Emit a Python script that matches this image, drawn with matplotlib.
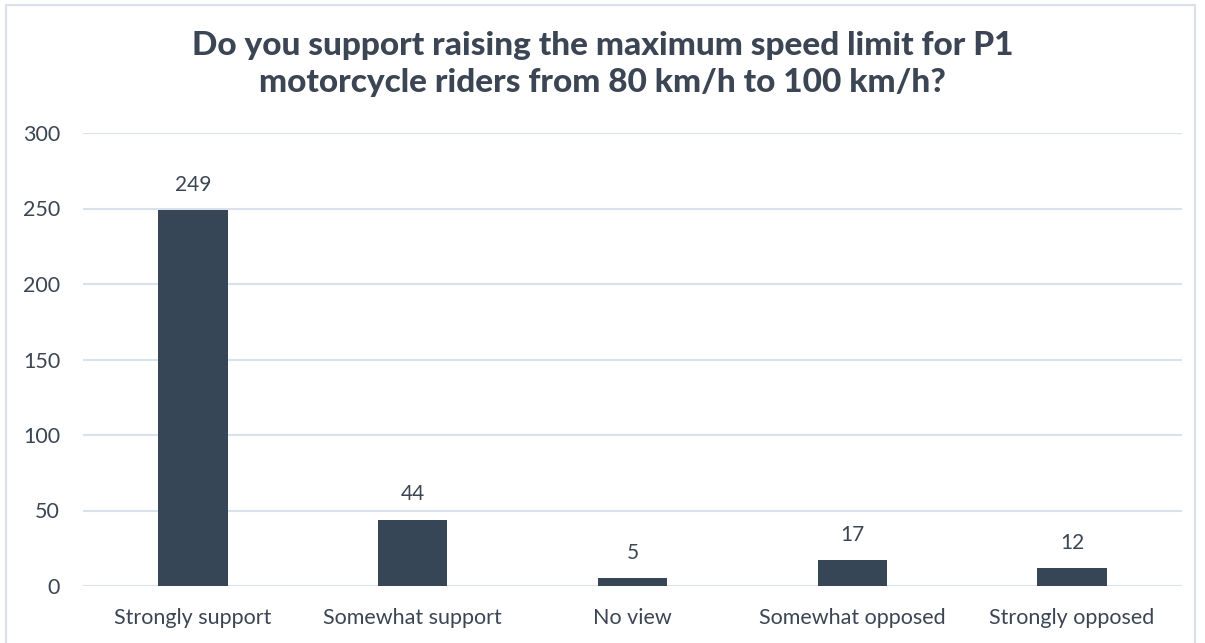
import matplotlib.pyplot as plt
from matplotlib.patches import Rectangle

categories = ["Strongly support", "Somewhat support", "No view",
              "Somewhat opposed", "Strongly opposed"]
counts = [249, 44, 5, 17, 12]
yticks = [0, 50, 100, 150, 200, 250, 300]

bar_color = "#374656"
text_color = "#3B4553"
grid_color = "#D9E2EC"

plt.rcParams["font.family"] = ["Lato", "DejaVu Sans"]

W, H = 1205, 643
fig = plt.figure(figsize=(W / 100, H / 100), dpi=100)
ax = fig.add_axes([83 / W, 1 - 586 / H, (1182 - 83) / W, (586 - 133) / H])

x = range(len(categories))
ax.bar(x, counts, width=0.315, color=bar_color, zorder=3)
for xi, v in zip(x, counts):
    ax.text(xi, v + 10, str(v), ha="center", va="bottom",
            fontsize=15, color=text_color)

ax.set_xlim(-0.5, len(categories) - 0.5)
ax.set_ylim(0, 300)
ax.set_yticks(yticks)
ax.set_xticks(list(x))
ax.set_xticklabels(categories)
ax.tick_params(axis="both", length=0, labelsize=15.5, colors=text_color)
ax.tick_params(axis="x", pad=16)
ax.tick_params(axis="y", pad=16.5)
ax.yaxis.grid(True, color=grid_color, linewidth=1.5, zorder=0)
for s in ax.spines.values():
    s.set_visible(False)

fig.text(0.5, 1 - 64 / H,
         "Do you support raising the maximum speed limit for P1\n"
         "motorcycle riders from 80 km/h to 100 km/h?",
         ha="center", va="center", fontsize=24, fontweight="black",
         color=text_color, linespacing=1.3)

fig.patches.append(Rectangle((6 / W, -0.05), (1195 - 6) / W, 1.05 - 5 / H,
                             transform=fig.transFigure, fill=False,
                             edgecolor=grid_color, linewidth=1.5))

fig.savefig("out.png", dpi=100)
